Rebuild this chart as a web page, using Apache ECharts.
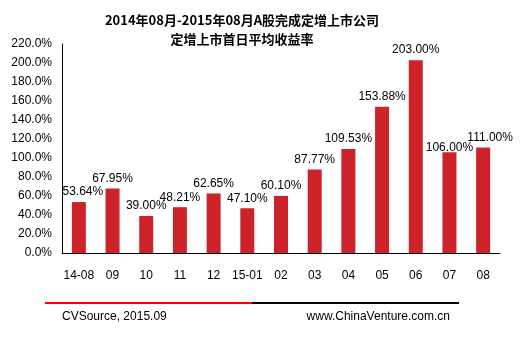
<!DOCTYPE html>
<html><head><meta charset="utf-8">
<script src="https://cdn.jsdelivr.net/npm/echarts@6/dist/echarts.min.js"></script>
<style>html,body{margin:0;padding:0;background:#fff}#c{width:529px;height:352px}</style>
</head><body><div id="c"></div>
<script>
const categories = ['14-08','09','10','11','12','15-01','02','03','04','05','06','07','08'];
const values = [53.64,67.95,39.00,48.21,62.65,47.10,60.10,87.77,109.53,153.88,203.00,106.00,111.00];
const titleLines = ['2014年08月-2015年08月A股完成定增上市公司','定增上市首日平均收益率'];
const source = 'CVSource, 2015.09';
const site = 'www.ChinaVenture.com.cn';
// label nudges (pixels) to mimic the original's label placement
const labelOffsets = {0:[4,0], 11:[0,5], 12:[7,0]};

const chart = echarts.init(document.getElementById('c'));
chart.setOption({
  animation:false,
  backgroundColor:'#fff',
  title:{text:titleLines.join('\n'),left:237,top:6,textAlign:'center',
    textStyle:{fontFamily:'Noto Sans CJK SC',fontWeight:'bold',fontSize:13,lineHeight:19,color:'#000'}},
  grid:{left:62,right:29,top:44,bottom:99},
  xAxis:{type:'category',data:categories,
    axisLine:{lineStyle:{color:'#000',width:1}},axisTick:{show:false},
    axisLabel:{color:'#000',fontFamily:'Arial, Liberation Sans',fontSize:12,margin:17,interval:0}},
  yAxis:{type:'value',min:0,max:220,interval:20,
    axisLine:{show:true,lineStyle:{color:'#000',width:1}},axisTick:{show:false},splitLine:{show:false},
    axisLabel:{color:'#000',fontFamily:'Arial, Liberation Sans',fontSize:12,margin:10,
      formatter:v=>v.toFixed(1)+'%'}},
  series:[{type:'bar',barWidth:14,itemStyle:{color:'#CC2229'},
    data:values.map((v,i)=>labelOffsets[i]?{value:v,label:{offset:labelOffsets[i]}}:v),
    label:{show:true,position:'top',distance:4,color:'#000',fontFamily:'Arial, Liberation Sans',fontSize:12,
      formatter:p=>p.value.toFixed(2)+'%'}}],
  graphic:[
    {type:'line',shape:{x1:45,y1:303,x2:252,y2:303},style:{stroke:'#FF0000',lineWidth:2}},
    {type:'line',shape:{x1:252,y1:303,x2:459,y2:303},style:{stroke:'#000',lineWidth:2}},
    {type:'text',left:62,top:311,style:{text:source,fill:'#000',font:'12px Arial, Liberation Sans'}},
    {type:'text',right:79,top:311,style:{text:site,fill:'#000',font:'12px Arial, Liberation Sans'}}
  ]
});
</script></body></html>
